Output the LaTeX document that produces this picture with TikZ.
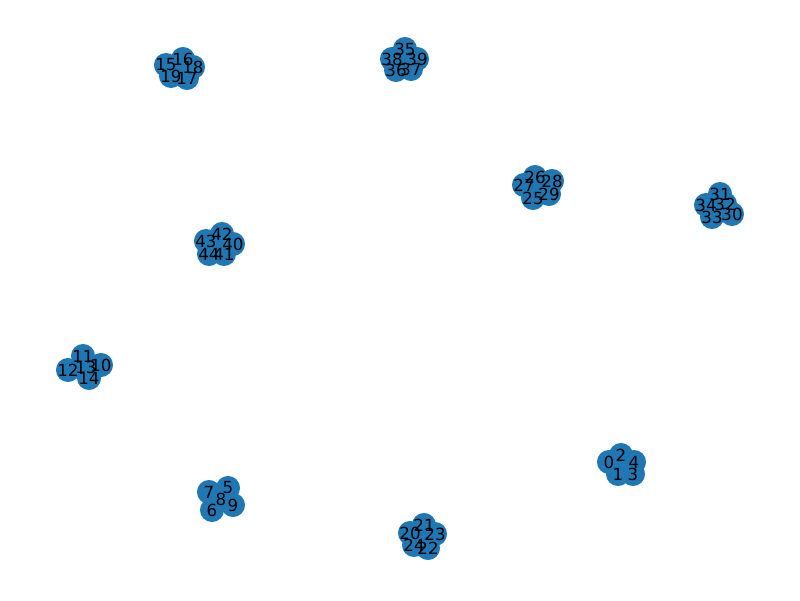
\documentclass[tikz,border=0pt]{standalone}
\usepackage{fontspec}
\setmainfont{DejaVu Sans}
\definecolor{nxblue}{RGB}{31,119,180}
\begin{document}
\begin{tikzpicture}[x=0.72pt,y=-0.72pt,
  vtx/.style={circle,fill=nxblue,draw=none,minimum size=17.32pt,inner sep=0pt},
  lbl/.style={inner sep=0pt,font=\fontsize{12}{14}\selectfont,text=black}]
\useasboundingbox (0,0) rectangle (800,600);
\foreach \i/\x/\y in {
 0/609/462, 1/618/474, 2/621/455, 3/633/474, 4/634/462,
 5/228/488, 6/212/510, 7/209/492, 8/221/499, 9/233/505,
 10/101/365, 11/83/356, 12/68/370, 13/86/367, 14/89/378,
 15/166/65, 16/183/59, 17/187/78, 18/193/67, 19/171/76,
 20/410/533, 21/424/525, 22/428/548, 23/435/534, 24/414/545,
 25/533/198, 26/535/177, 27/524/185, 28/552/181, 29/549/194,
 30/732/214, 31/720/194, 32/725/204, 33/712/217, 34/706/205,
 35/405/49, 36/396/70, 37/411/69, 38/392/59, 39/417/59,
 40/233/244, 41/224/254, 42/222/234, 43/206/241, 44/209/254}
 { \node[vtx] (n\i) at (\x,\y) {}; }
\foreach \i in {0,...,44}
 { \node[lbl] (l\i) at (n\i) {\i}; }
\end{tikzpicture}
\end{document}
